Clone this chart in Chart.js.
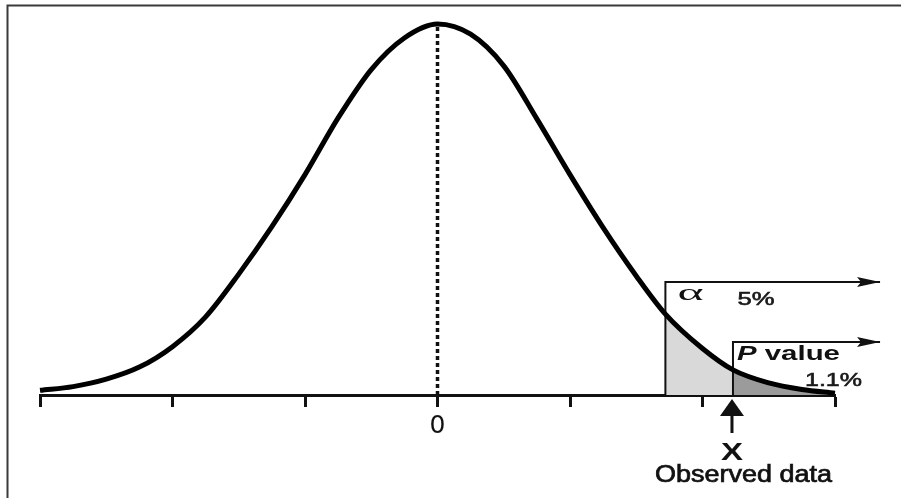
<!DOCTYPE html>
<html>
<head>
<meta charset="utf-8">
<script src="https://cdn.jsdelivr.net/npm/chart.js@4.4.1/dist/chart.umd.min.js"></script>
<style>
  html, body { margin: 0; padding: 0; background: #fff; }
  #wrap { position: relative; width: 901px; height: 498px; }
</style>
</head>
<body>
<div id="wrap"><canvas id="c" width="901" height="498"></canvas></div>
<script>
// ---- data (z in SD units, density) ----
const curveZ = [-3.00, -2.75, -2.50, -2.25, -2.00, -1.75, -1.50, -1.25, -1.00, -0.75, -0.50, -0.25, 0.00,
                0.25, 0.50, 0.75, 1.00, 1.25, 1.50, 1.72, 2.00, 2.23, 2.50, 2.75, 3.00];
const curveDensity = [0.005, 0.009, 0.017, 0.030, 0.052, 0.084, 0.130, 0.181, 0.237, 0.298, 0.350, 0.384, 0.399,
                      0.388, 0.354, 0.297, 0.237, 0.180, 0.128, 0.087, 0.050, 0.027, 0.013, 0.006, 0.002];
const tickValues = [-3, -2, -1, 0, 1, 2, 3];
const tickLabels = ['', '', '', '0', '', '', ''];
const alphaZ = 1.72;        // critical value (alpha = 5%)
const observedZ = 2.23;     // observed data X
const alphaBoxTop = 0.1215; // height of the alpha bracket
const pBoxTop = 0.057;      // height of the P value bracket
const arrowEndZ = 3.34;     // where bracket arrows end
const labels = { alpha: 'α', alphaPct: '5%', pItalic: 'P', pRest: ' value', pPct: '1.1%', x: 'X', observed: 'Observed data' };

const curve = curveZ.map((z, i) => ({ x: z, y: curveDensity[i] }));
const alphaArea = curve.filter(p => p.x >= alphaZ);
const pArea = curve.filter(p => p.x >= observedZ);
const peak = Math.max(...curveDensity);

function scaledText(ctx, text, left, baseline, font, width, stroke) {
  ctx.font = font;
  const m = ctx.measureText(text).width;
  ctx.save();
  ctx.translate(left, baseline);
  ctx.scale(width / m, 1);
  ctx.textAlign = 'left';
  ctx.textBaseline = 'alphabetic';
  ctx.fillText(text, 0, 0);
  if (stroke) {
    ctx.lineWidth = stroke;
    ctx.strokeStyle = ctx.fillStyle;
    ctx.strokeText(text, 0, 0);
  }
  ctx.restore();
}

function arrowHead(ctx, x, y) {
  ctx.beginPath();
  ctx.moveTo(x, y);
  ctx.lineTo(x - 23, y - 5);
  ctx.lineTo(x - 19, y);
  ctx.lineTo(x - 23, y + 5);
  ctx.closePath();
  ctx.fill();
}

const decor = {
  id: 'decor',
  beforeDraw(chart) {
    const ctx = chart.ctx;
    ctx.save();
    ctx.fillStyle = '#fff';
    ctx.fillRect(0, 0, chart.width, chart.height);
    ctx.strokeStyle = '#3a3a3a';
    ctx.lineWidth = 2;
    ctx.beginPath();
    ctx.moveTo(7.5, chart.height);
    ctx.lineTo(7.5, 5.5);
    ctx.lineTo(chart.width, 5.5);
    ctx.stroke();
    ctx.restore();
  },
  afterDraw(chart) {
    const ctx = chart.ctx;
    const xs = chart.scales.x, ys = chart.scales.y;
    const base = ys.getPixelForValue(0);
    ctx.save();
    ctx.fillStyle = '#111';
    // arrow heads of brackets
    const ax = xs.getPixelForValue(arrowEndZ);
    arrowHead(ctx, ax, ys.getPixelForValue(alphaBoxTop));
    arrowHead(ctx, ax, ys.getPixelForValue(pBoxTop));
    // upward arrow at observed data
    const ox = xs.getPixelForValue(observedZ) - 1;
    ctx.beginPath();
    ctx.moveTo(ox, base + 4);
    ctx.lineTo(ox - 12, base + 21);
    ctx.lineTo(ox + 12, base + 21);
    ctx.closePath();
    ctx.fill();
    ctx.fillRect(ox - 1.5, base + 18, 3, 20);
    // texts
    const alx = xs.getPixelForValue(alphaZ);
    const aTop = ys.getPixelForValue(alphaBoxTop);
    scaledText(ctx, labels.alpha, alx + 12, aTop + 18, '24px "Liberation Serif"', 26);
    ctx.fillStyle = '#1a1a1a';
    scaledText(ctx, labels.alphaPct, alx + 72, aTop + 23, '19px "Liberation Sans"', 37, 0.6);
    const px = xs.getPixelForValue(observedZ);
    const pTop = ys.getPixelForValue(pBoxTop);
    ctx.fillStyle = '#111';
    ctx.font = 'italic bold 21px "Liberation Sans"';
    const wP = ctx.measureText(labels.pItalic).width;
    ctx.font = 'bold 21px "Liberation Sans"';
    const wR = ctx.measureText(labels.pRest).width;
    const k = 103 / (wP + wR);
    ctx.save();
    ctx.translate(px + 4, pTop + 18);
    ctx.scale(k, 1);
    ctx.font = 'italic bold 21px "Liberation Sans"';
    ctx.fillText(labels.pItalic, 0, 0);
    ctx.font = 'bold 21px "Liberation Sans"';
    ctx.fillText(labels.pRest, wP, 0);
    ctx.restore();
    ctx.fillStyle = '#1a1a1a';
    scaledText(ctx, labels.pPct, 805, base - 9, '19px "Liberation Sans"', 57, 0.6);
    ctx.fillStyle = '#111';
    scaledText(ctx, labels.x, ox - 11, base + 65, 'bold 23px "Liberation Sans"', 22);
    scaledText(ctx, labels.observed, 655, base + 87, '23px "Liberation Sans"', 177, 0.7);
    ctx.restore();
  }
};

new Chart(document.getElementById('c'), {
  type: 'line',
  data: {
    datasets: [
      { label: 'alpha area', data: alphaArea, parsing: false, fill: 'origin', backgroundColor: '#d9d9d9',
        borderWidth: 0, pointRadius: 0, cubicInterpolationMode: 'monotone', order: 5, clip: false },
      { label: 'p area', data: pArea, parsing: false, fill: 'origin', backgroundColor: '#9b9b9b',
        borderWidth: 0, pointRadius: 0, cubicInterpolationMode: 'monotone', order: 4, clip: false },
      { label: 'alpha bracket', data: [{x: alphaZ, y: 0}, {x: alphaZ, y: alphaBoxTop}, {x: arrowEndZ, y: alphaBoxTop}],
        parsing: false, borderColor: '#111', borderWidth: 2, pointRadius: 0, tension: 0, fill: false, order: 3, clip: false },
      { label: 'p bracket', data: [{x: observedZ, y: 0}, {x: observedZ, y: pBoxTop}, {x: arrowEndZ, y: pBoxTop}],
        parsing: false, borderColor: '#111', borderWidth: 2, pointRadius: 0, tension: 0, fill: false, order: 3, clip: false },
      { label: 'mean', data: [{x: 0, y: 0}, {x: 0, y: peak}], parsing: false, borderColor: '#111', borderWidth: 3.5,
        borderDash: [4, 3], pointRadius: 0, fill: false, order: 2, clip: false },
      { label: 'density', data: curve, parsing: false, borderColor: '#000', borderWidth: 5, pointRadius: 0,
        cubicInterpolationMode: 'monotone', fill: false, order: 1, clip: false, borderCapStyle: 'butt' }
    ]
  },
  options: {
    responsive: false,
    animation: false,
    events: [],
    layout: { padding: { left: 40, right: 66, top: 24, bottom: 0 } },
    plugins: { legend: { display: false }, tooltip: { enabled: false }, title: { display: false } },
    scales: {
      x: {
        type: 'linear', min: -3, max: 3,
        afterBuildTicks: s => { s.ticks = tickValues.map(v => ({ value: v })); },
        afterFit: s => { s.height = 103; },
        grid: { drawOnChartArea: false, drawTicks: true, tickLength: 12, tickWidth: 3, tickColor: '#111' },
        border: { display: true, color: '#111', width: 3 },
        ticks: {
          autoSkip: false, maxRotation: 0, padding: 4, color: '#111',
          font: { family: '"DejaVu Sans"', size: 25 },
          callback: (v) => { const i = tickValues.indexOf(v); return i >= 0 ? tickLabels[i] : ''; }
        }
      },
      y: { type: 'linear', min: 0, max: peak, display: false }
    }
  },
  plugins: [decor]
});
</script>
</body>
</html>
